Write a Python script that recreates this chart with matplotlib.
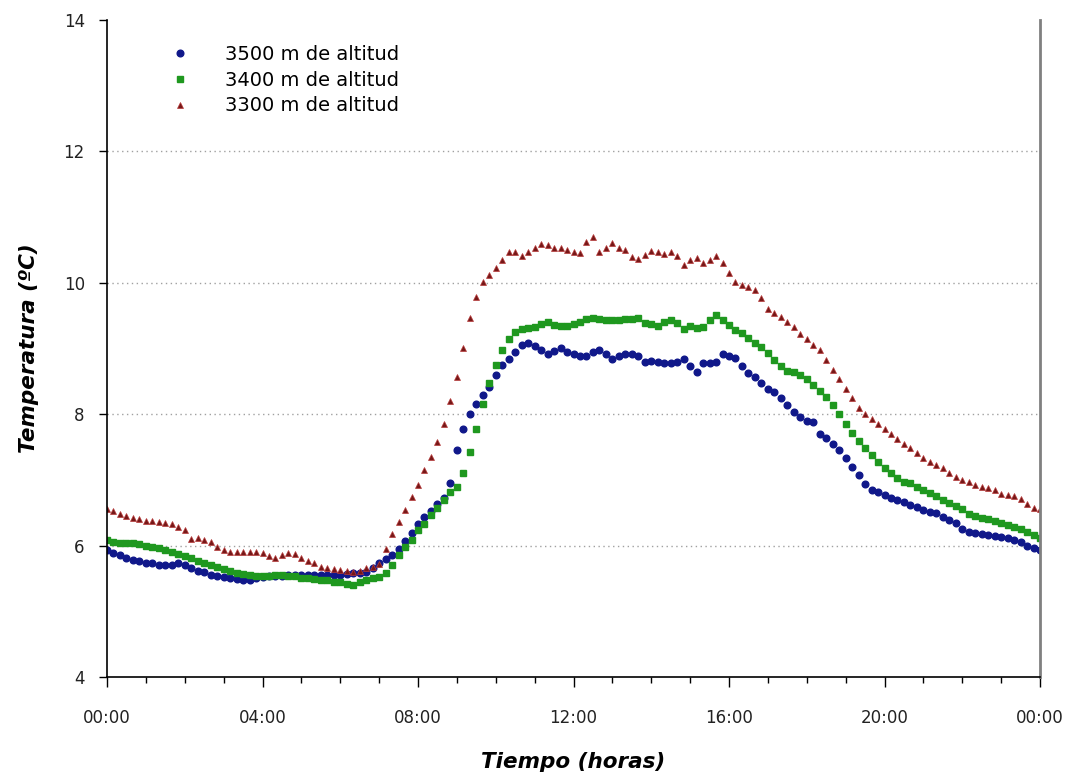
import numpy as np
import matplotlib
matplotlib.use("Agg")
import matplotlib.pyplot as plt
from matplotlib.ticker import MultipleLocator

plt.rcParams["font.family"] = ["DejaVu Sans"]

# 10-minute readings over one day (00:00 -> 24:00)
t_hours = np.arange(145) / 6.0
xtick_labels = ["00:00", "04:00", "08:00", "12:00", "16:00", "20:00", "00:00"]

t3500 = [
    5.93, 5.88, 5.85, 5.81, 5.78, 5.76, 5.74, 5.73, 5.71, 5.70, 5.70, 5.73, 5.70, 5.66, 5.62, 5.60,
    5.56, 5.53, 5.52, 5.51, 5.49, 5.47, 5.48, 5.50, 5.52, 5.53, 5.54, 5.54, 5.55, 5.55, 5.55, 5.55,
    5.55, 5.55, 5.55, 5.56, 5.56, 5.57, 5.58, 5.59, 5.60, 5.66, 5.73, 5.80, 5.86, 5.95, 6.07, 6.19,
    6.33, 6.43, 6.53, 6.63, 6.73, 6.95, 7.45, 7.78, 8.00, 8.16, 8.29, 8.42, 8.60, 8.75, 8.84, 8.94,
    9.06, 9.08, 9.04, 8.98, 8.92, 8.96, 9.01, 8.95, 8.92, 8.89, 8.89, 8.95, 8.97, 8.91, 8.84, 8.88,
    8.92, 8.91, 8.88, 8.79, 8.81, 8.80, 8.78, 8.78, 8.79, 8.84, 8.74, 8.64, 8.78, 8.78, 8.79, 8.92,
    8.89, 8.85, 8.73, 8.63, 8.56, 8.47, 8.39, 8.34, 8.25, 8.14, 8.03, 7.96, 7.90, 7.88, 7.70, 7.64,
    7.54, 7.45, 7.34, 7.20, 7.08, 6.94, 6.84, 6.81, 6.77, 6.73, 6.69, 6.66, 6.62, 6.59, 6.54, 6.51,
    6.50, 6.44, 6.39, 6.34, 6.25, 6.21, 6.19, 6.18, 6.16, 6.15, 6.13, 6.12, 6.09, 6.05, 6.00, 5.96,
    5.93,
]
t3400 = [
    6.09, 6.06, 6.04, 6.04, 6.04, 6.02, 5.99, 5.98, 5.96, 5.93, 5.90, 5.87, 5.84, 5.81, 5.77, 5.74,
    5.70, 5.67, 5.64, 5.61, 5.59, 5.57, 5.55, 5.53, 5.53, 5.54, 5.55, 5.55, 5.54, 5.53, 5.51, 5.50,
    5.49, 5.48, 5.47, 5.45, 5.44, 5.42, 5.40, 5.45, 5.48, 5.50, 5.52, 5.58, 5.70, 5.86, 5.98, 6.09,
    6.24, 6.33, 6.47, 6.58, 6.70, 6.82, 6.89, 7.10, 7.42, 7.78, 8.15, 8.47, 8.75, 8.98, 9.14, 9.25,
    9.29, 9.31, 9.32, 9.37, 9.40, 9.36, 9.34, 9.35, 9.38, 9.41, 9.45, 9.47, 9.45, 9.43, 9.43, 9.44,
    9.45, 9.45, 9.46, 9.39, 9.37, 9.34, 9.40, 9.43, 9.39, 9.30, 9.34, 9.31, 9.33, 9.44, 9.51, 9.44,
    9.36, 9.28, 9.23, 9.16, 9.09, 9.02, 8.93, 8.83, 8.74, 8.66, 8.64, 8.60, 8.53, 8.44, 8.36, 8.26,
    8.14, 8.00, 7.85, 7.71, 7.59, 7.48, 7.38, 7.28, 7.18, 7.11, 7.03, 6.97, 6.95, 6.89, 6.85, 6.80,
    6.75, 6.69, 6.65, 6.60, 6.55, 6.48, 6.45, 6.42, 6.40, 6.37, 6.35, 6.32, 6.29, 6.25, 6.21, 6.16,
    6.12,
]
t3300 = [
    6.56, 6.52, 6.48, 6.45, 6.42, 6.40, 6.38, 6.38, 6.36, 6.35, 6.33, 6.28, 6.24, 6.10, 6.12, 6.08,
    6.05, 5.98, 5.93, 5.91, 5.91, 5.90, 5.91, 5.90, 5.89, 5.84, 5.81, 5.86, 5.89, 5.87, 5.81, 5.77,
    5.73, 5.68, 5.66, 5.65, 5.63, 5.62, 5.60, 5.62, 5.66, 5.68, 5.72, 5.95, 6.18, 6.36, 6.54, 6.74,
    6.92, 7.15, 7.35, 7.58, 7.85, 8.20, 8.57, 9.01, 9.46, 9.78, 10.01, 10.12, 10.22, 10.35, 10.47, 10.47,
    10.41, 10.47, 10.53, 10.59, 10.58, 10.53, 10.53, 10.50, 10.47, 10.45, 10.62, 10.70, 10.47, 10.53, 10.61, 10.53,
    10.50, 10.39, 10.36, 10.42, 10.48, 10.47, 10.44, 10.47, 10.41, 10.27, 10.35, 10.37, 10.30, 10.35, 10.41, 10.30,
    10.15, 10.01, 9.97, 9.94, 9.89, 9.77, 9.60, 9.54, 9.48, 9.41, 9.32, 9.22, 9.14, 9.05, 8.98, 8.83,
    8.68, 8.53, 8.38, 8.24, 8.10, 8.01, 7.92, 7.85, 7.77, 7.70, 7.63, 7.55, 7.48, 7.41, 7.33, 7.27,
    7.23, 7.18, 7.11, 7.05, 7.00, 6.97, 6.93, 6.89, 6.88, 6.84, 6.78, 6.77, 6.75, 6.71, 6.63, 6.58,
    6.56,
]

fig = plt.figure(figsize=(10.83, 7.78), dpi=100)
ax = fig.add_axes([0.0988, 0.1298, 0.8615, 0.8445])

ax.plot(t_hours, t3500, "o", ms=4.8, color="#10188a", mec="#10188a", label="3500 m de altitud")
ax.plot(t_hours, t3400, "s", ms=4.2, color="#1f981f", mec="#1f981f", label="3400 m de altitud")
ax.plot(t_hours, t3300, "^", ms=4.8, color="#761818", mec="#b83a3a", mew=0.5, label="3300 m de altitud")

ax.set_xlim(0, 24)
ax.set_ylim(4, 14)
ax.set_xticks(np.arange(0, 25, 4), xtick_labels)
ax.xaxis.set_minor_locator(MultipleLocator(1))
ax.set_yticks(np.arange(4, 15, 2))
ax.tick_params(axis="both", which="major", direction="out", length=6, width=1,
               labelsize=12, labelcolor="#222222")
ax.tick_params(axis="x", which="major", pad=16, length=7)
ax.tick_params(axis="y", which="major", pad=10)
ax.tick_params(axis="x", which="minor", direction="out", length=4, width=1)

# dotted guide lines at the inner y ticks only
for y in ax.get_yticks()[1:-1]:
    ax.axhline(y, color="#a0a0a0", ls=(0, (1, 2.5)), lw=1, zorder=0)

ax.spines["top"].set_visible(False)
ax.spines["right"].set_color("#808080")
ax.spines["right"].set_linewidth(2)
ax.spines["left"].set_linewidth(1.2)
ax.spines["bottom"].set_linewidth(1.2)

ax.set_xlabel("Tiempo (horas)", fontsize=15.5, fontweight="bold", fontstyle="italic", labelpad=18)
ax.set_ylabel("Temperatura (ºC)", fontsize=15.5, fontweight="bold", fontstyle="italic", labelpad=18)

ax.legend(loc="upper left", bbox_to_anchor=(0.0386, 0.989), frameon=False, fontsize=14,
          handletextpad=1.32, labelspacing=0.35, markerscale=1.0)

fig.savefig("out.png", dpi=100)
